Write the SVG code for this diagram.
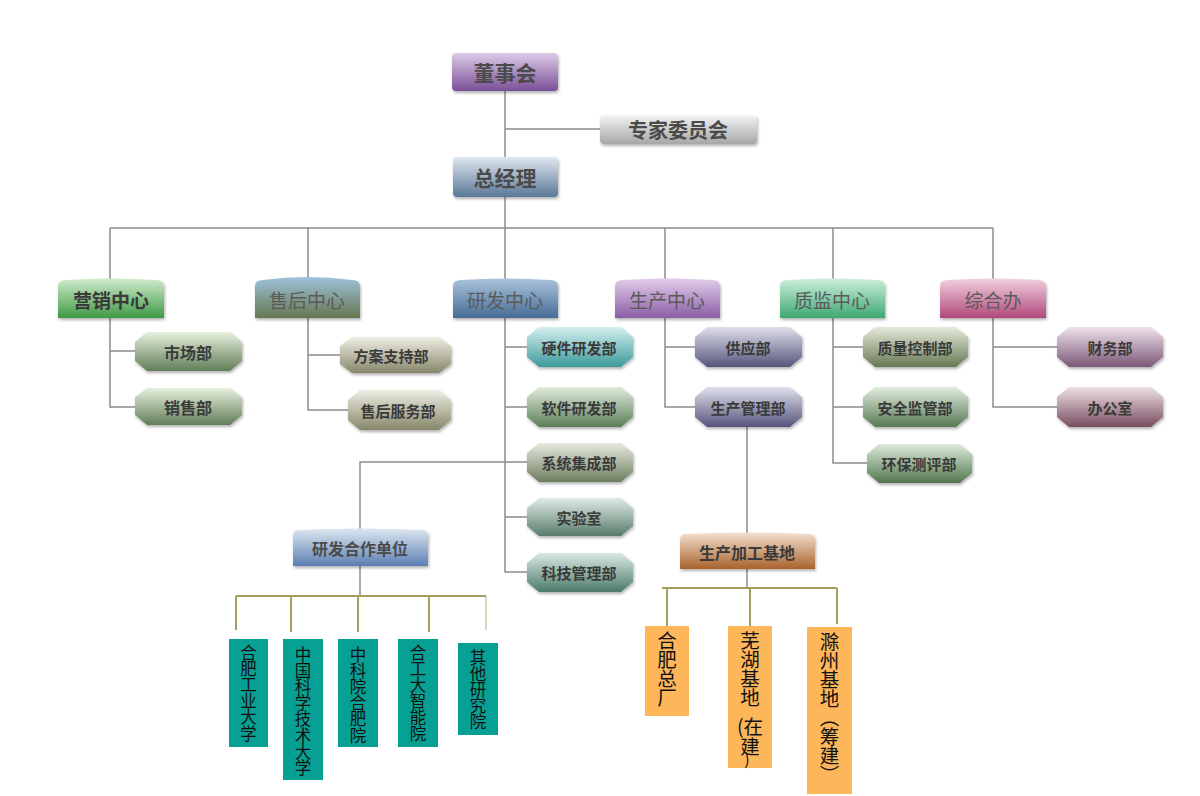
<svg xmlns="http://www.w3.org/2000/svg" width="1200" height="796" viewBox="0 0 1200 796">
<style>
text{font-family:"Noto Sans CJK SC","Noto Sans",sans-serif;}
.lbl{text-anchor:middle;dominant-baseline:central;fill:#3c3c3c;font-weight:bold;}
.top{font-size:21px;fill:#4a4a4a;}
.ctr{font-size:19px;fill:#5a5a5a;font-weight:normal;}
.sub{font-size:15px;fill:#3a3a3a;}
.vt{writing-mode:vertical-rl;text-anchor:start;fill:#111;font-size:16.5px;letter-spacing:-0.3px;}
.vo{writing-mode:vertical-rl;text-anchor:start;fill:#111;font-size:19.5px;letter-spacing:-0.5px;}
.ho{text-anchor:middle;fill:#111;font-size:19.5px;}
.ln{fill:none;stroke:#8c8c8c;stroke-width:1.5;}
.kh{fill:none;stroke:#a59c62;stroke-width:2;}
.teal{fill:#06a194;}
.org{fill:#fdb65a;}
.sh{filter:url(#ds);}
</style>
<defs>
<filter id="ds" x="-10%" y="-20%" width="125%" height="150%"><feDropShadow dx="1" dy="2" stdDeviation="1.5" flood-color="#000" flood-opacity="0.3"/></filter>
<linearGradient id="gDsh" x1="0" y1="0" x2="0" y2="1"><stop offset="0" stop-color="#dccbe6"/><stop offset="1" stop-color="#7a4f98"/></linearGradient>
<linearGradient id="gZj" x1="0" y1="0" x2="0" y2="1"><stop offset="0" stop-color="#f4f4f4"/><stop offset="1" stop-color="#a6a6a6"/></linearGradient>
<linearGradient id="gZjl" x1="0" y1="0" x2="0" y2="1"><stop offset="0" stop-color="#dfe7ef"/><stop offset="1" stop-color="#5a7897"/></linearGradient>
<linearGradient id="gYx" x1="0" y1="0" x2="0" y2="1"><stop offset="0" stop-color="#d2ebcc"/><stop offset="1" stop-color="#3e9a45"/></linearGradient>
<linearGradient id="gSh" x1="0" y1="0" x2="0" y2="1"><stop offset="0" stop-color="#9ec2dc"/><stop offset="1" stop-color="#66774f"/></linearGradient>
<linearGradient id="gYf" x1="0" y1="0" x2="0" y2="1"><stop offset="0" stop-color="#a9c3dc"/><stop offset="1" stop-color="#476c95"/></linearGradient>
<linearGradient id="gSc" x1="0" y1="0" x2="0" y2="1"><stop offset="0" stop-color="#e2cdea"/><stop offset="1" stop-color="#8a5da6"/></linearGradient>
<linearGradient id="gZk" x1="0" y1="0" x2="0" y2="1"><stop offset="0" stop-color="#cdeedb"/><stop offset="1" stop-color="#3da973"/></linearGradient>
<linearGradient id="gZh" x1="0" y1="0" x2="0" y2="1"><stop offset="0" stop-color="#f3d0df"/><stop offset="1" stop-color="#b0487b"/></linearGradient>
<linearGradient id="gGreen" x1="0" y1="0" x2="0" y2="1"><stop offset="0" stop-color="#e6f0de"/><stop offset="1" stop-color="#617e57"/></linearGradient>
<linearGradient id="gOlive" x1="0" y1="0" x2="0" y2="1"><stop offset="0" stop-color="#efeee4"/><stop offset="1" stop-color="#86876a"/></linearGradient>
<linearGradient id="gTeal" x1="0" y1="0" x2="0" y2="1"><stop offset="0" stop-color="#d6efef"/><stop offset="1" stop-color="#3c9a9b"/></linearGradient>
<linearGradient id="gSoft" x1="0" y1="0" x2="0" y2="1"><stop offset="0" stop-color="#e0ebdb"/><stop offset="1" stop-color="#5d7e5a"/></linearGradient>
<linearGradient id="gSys" x1="0" y1="0" x2="0" y2="1"><stop offset="0" stop-color="#e6eadf"/><stop offset="1" stop-color="#6d7d5e"/></linearGradient>
<linearGradient id="gLab" x1="0" y1="0" x2="0" y2="1"><stop offset="0" stop-color="#e1ebe6"/><stop offset="1" stop-color="#577c6b"/></linearGradient>
<linearGradient id="gTech" x1="0" y1="0" x2="0" y2="1"><stop offset="0" stop-color="#dae9e4"/><stop offset="1" stop-color="#4c7a6b"/></linearGradient>
<linearGradient id="gPurp" x1="0" y1="0" x2="0" y2="1"><stop offset="0" stop-color="#e0e0ec"/><stop offset="1" stop-color="#55557d"/></linearGradient>
<linearGradient id="gQc" x1="0" y1="0" x2="0" y2="1"><stop offset="0" stop-color="#e5ead9"/><stop offset="1" stop-color="#687956"/></linearGradient>
<linearGradient id="gSafe" x1="0" y1="0" x2="0" y2="1"><stop offset="0" stop-color="#e1ecde"/><stop offset="1" stop-color="#577a55"/></linearGradient>
<linearGradient id="gEnv" x1="0" y1="0" x2="0" y2="1"><stop offset="0" stop-color="#ddebda"/><stop offset="1" stop-color="#52784d"/></linearGradient>
<linearGradient id="gFin" x1="0" y1="0" x2="0" y2="1"><stop offset="0" stop-color="#eee2eb"/><stop offset="1" stop-color="#7c5878"/></linearGradient>
<linearGradient id="gOff" x1="0" y1="0" x2="0" y2="1"><stop offset="0" stop-color="#eee0e6"/><stop offset="1" stop-color="#784d60"/></linearGradient>
<linearGradient id="gHz" x1="0" y1="0" x2="0" y2="1"><stop offset="0" stop-color="#dde7f2"/><stop offset="1" stop-color="#5b7fb2"/></linearGradient>
<linearGradient id="gJd" x1="0" y1="0" x2="0" y2="1"><stop offset="0" stop-color="#f4e0d0"/><stop offset="1" stop-color="#a8632c"/></linearGradient>
</defs>

<g id="connectors">
<path class="ln" d="M505,91 V157 M505,129 H600 M505,197 V228 M110,228 H993 M110,228 V280 M308,228 V280 M505,228 V280 M665,228 V280 M833,228 V280 M993,228 V280"/>
<path class="ln" d="M110,318 V407 H135 M110,351 H135"/>
<path class="ln" d="M308,318 V410 H348 M308,355 H340"/>
<path class="ln" d="M505,318 V572 H527 M505,347 H527 M505,407 H527 M505,462 H527 M505,517 H527 M505,462 H360 V530"/>
<path class="ln" d="M665,318 V407 H695 M665,347 H695 M747,427 V535"/>
<path class="ln" d="M833,318 V463 H867 M833,347 H863 M833,407 H863"/>
<path class="ln" d="M993,318 V407 H1057 M993,347 H1057"/>
<path class="ln" d="M360,566 V596 M747,569 V588" stroke="#bdbdbd"/>
<path class="kh" d="M236,596 H486 M236,596 V630 M291,596 V632 M358,596 V632 M429,596 V632"/>
<path class="kh" d="M486,596 V630" stroke-opacity="0.4"/>
<path class="kh" d="M662,588 H837 M667,588 V626 M750,588 V626 M837,588 V624"/>
</g>

<g id="n-dongshihui"><rect class="sh" x="452" y="53" width="106" height="38" rx="4" fill="url(#gDsh)"/><text class="lbl top" x="505" y="72">董事会</text></g>
<g id="n-zhuanjia"><rect class="sh" x="600" y="115" width="157" height="29" rx="4" fill="url(#gZj)"/><text class="lbl top" x="678" y="129.5" style="font-size:20px">专家委员会</text></g>
<g id="n-zongjingli"><rect class="sh" x="453" y="157" width="105" height="40" rx="4" fill="url(#gZjl)"/><text class="lbl top" x="505" y="177">总经理</text></g>

<g id="c-yingxiao"><path class="sh" d="M58,318 V286 Q58,280 66,280 Q111,277 156,280 Q164,280 164,286 V318 Z" fill="url(#gYx)"/><text class="lbl ctr" x="111" y="299" style="fill:#3a3a3a;font-weight:bold">营销中心</text></g>
<g id="c-shouhou"><path class="sh" d="M255,318 V286 Q255,280 263,280 Q307.5,274 352,280 Q360,280 360,286 V318 Z" fill="url(#gSh)"/><text class="lbl ctr" x="307" y="299">售后中心</text></g>
<g id="c-yanfa"><path class="sh" d="M453,318 V286 Q453,280 461,280 Q505.5,277 550,280 Q558,280 558,286 V318 Z" fill="url(#gYf)"/><text class="lbl ctr" x="505" y="299">研发中心</text></g>
<g id="c-shengchan"><path class="sh" d="M615,318 V286 Q615,280 623,280 Q667.5,277 712,280 Q720,280 720,286 V318 Z" fill="url(#gSc)"/><text class="lbl ctr" x="667" y="299">生产中心</text></g>
<g id="c-zhijian"><path class="sh" d="M780,318 V286 Q780,280 788,280 Q832.5,277 877,280 Q885,280 885,286 V318 Z" fill="url(#gZk)"/><text class="lbl ctr" x="832" y="299">质监中心</text></g>
<g id="c-zonghe"><path class="sh" d="M940,318 V286 Q940,280 948,280 Q993,277 1038,280 Q1046,280 1046,286 V318 Z" fill="url(#gZh)"/><text class="lbl ctr" x="993" y="299">综合办</text></g>

<g id="s-shichang"><polygon class="sh" points="147,332 230,332 242,342 242,361 230,371 147,371 135,361 135,342" fill="url(#gGreen)"/><text class="lbl sub" x="188" y="351.5" style="font-size:16px">市场部</text></g>
<g id="s-xiaoshou"><polygon class="sh" points="147,388 230,388 242,397 242,415 230,425 147,425 135,415 135,397" fill="url(#gGreen)"/><text class="lbl sub" x="188" y="406.5" style="font-size:16px">销售部</text></g>
<g id="s-fangan"><polygon class="sh" points="352,337 439,337 451,346 451,364 439,373 352,373 340,364 340,346" fill="url(#gOlive)"/><text class="lbl sub" x="391" y="355">方案支持部</text></g>
<g id="s-shouhoufw"><polygon class="sh" points="360,390 439,390 451,400 451,420 439,430 360,430 348,420 348,400" fill="url(#gOlive)"/><text class="lbl sub" x="398" y="410">售后服务部</text></g>

<g id="s-yingjian"><polygon class="sh" points="539,327 621,327 633,337 633,357 621,367 539,367 527,357 527,337" fill="url(#gTeal)"/><text class="lbl sub" x="579" y="347">硬件研发部</text></g>
<g id="s-ruanjian"><polygon class="sh" points="539,387 621,387 633,397 633,417 621,427 539,427 527,417 527,397" fill="url(#gSoft)"/><text class="lbl sub" x="579" y="407">软件研发部</text></g>
<g id="s-xitong"><polygon class="sh" points="539,443 621,443 633,453 633,472 621,482 539,482 527,472 527,453" fill="url(#gSys)"/><text class="lbl sub" x="579" y="462.5">系统集成部</text></g>
<g id="s-shiyan"><polygon class="sh" points="539,498 621,498 633,508 633,526 621,536 539,536 527,526 527,508" fill="url(#gLab)"/><text class="lbl sub" x="579" y="517">实验室</text></g>
<g id="s-keji"><polygon class="sh" points="539,553 621,553 633,563 633,582 621,592 539,592 527,582 527,563" fill="url(#gTech)"/><text class="lbl sub" x="579" y="572.5">科技管理部</text></g>

<g id="s-gongying"><polygon class="sh" points="707,327 790,327 802,337 802,357 790,367 707,367 695,357 695,337" fill="url(#gPurp)"/><text class="lbl sub" x="748" y="347">供应部</text></g>
<g id="s-shengchangl"><polygon class="sh" points="707,387 790,387 802,397 802,417 790,427 707,427 695,417 695,397" fill="url(#gPurp)"/><text class="lbl sub" x="748" y="407">生产管理部</text></g>

<g id="s-zhiliang"><polygon class="sh" points="875,327 956,327 968,337 968,357 956,367 875,367 863,357 863,337" fill="url(#gQc)"/><text class="lbl sub" x="915" y="347">质量控制部</text></g>
<g id="s-anquan"><polygon class="sh" points="875,387 956,387 968,397 968,417 956,427 875,427 863,417 863,397" fill="url(#gSafe)"/><text class="lbl sub" x="915" y="407">安全监管部</text></g>
<g id="s-huanbao"><polygon class="sh" points="879,444 960,444 972,454 972,473 960,483 879,483 867,473 867,454" fill="url(#gEnv)"/><text class="lbl sub" x="919" y="463.5">环保测评部</text></g>

<g id="s-caiwu"><polygon class="sh" points="1069,327 1151,327 1163,337 1163,357 1151,367 1069,367 1057,357 1057,337" fill="url(#gFin)"/><text class="lbl sub" x="1110" y="347">财务部</text></g>
<g id="s-bangong"><polygon class="sh" points="1069,387 1151,387 1163,397 1163,417 1151,427 1069,427 1057,417 1057,397" fill="url(#gOff)"/><text class="lbl sub" x="1110" y="407">办公室</text></g>

<g id="n-hezuo"><path class="sh" d="M293,566 V535 Q293,530 300,530 Q360.5,527 421,530 Q428,530 428,535 V566 Z" fill="url(#gHz)"/><text class="lbl sub" x="360" y="548" style="font-size:16px;fill:#4a4a4a">研发合作单位</text></g>
<g id="n-jidi"><path class="sh" d="M680,569 V539 Q680,534 687,534 Q747.5,531 808,534 Q815,534 815,539 V569 Z" fill="url(#gJd)"/><text class="lbl sub" x="747" y="551.5" style="font-size:16px">生产加工基地</text></g>

<g id="u-hfgy"><rect class="teal" x="229" y="639" width="39" height="108"/><text class="vt" x="248.5" y="644">合肥工业大学</text></g>
<g id="u-zgkd"><rect class="teal" x="283" y="639" width="40" height="141"/><text class="vt" x="303" y="646">中国科学技术大学</text></g>
<g id="u-zky"><rect class="teal" x="338" y="639" width="40" height="108"/><text class="vt" x="358" y="646">中科院合肥院</text></g>
<g id="u-hgd"><rect class="teal" x="398" y="639" width="40" height="108"/><text class="vt" x="418" y="644">合工大智能院</text></g>
<g id="u-qt"><rect class="teal" x="458" y="643" width="40" height="92"/><text class="vt" x="478" y="649">其他研究院</text></g>

<g id="b-hefei"><rect class="org" x="645" y="626" width="44" height="90"/><text class="vo" x="667" y="631">合肥总厂</text></g>
<g id="b-wuhu"><rect class="org" x="728" y="626" width="44" height="142"/><text class="vo" x="750" y="631">芜湖基地</text><text class="ho" x="750" y="733.5">(在</text><text class="vo" x="750" y="737">建</text><text class="ho" x="747" y="765" style="font-size:16px">)</text></g>
<g id="b-chuzhou"><rect class="org" x="807" y="627" width="45" height="167"/><text class="vo" x="829.5" y="632">滁州基地（筹建）</text></g>
</svg>
